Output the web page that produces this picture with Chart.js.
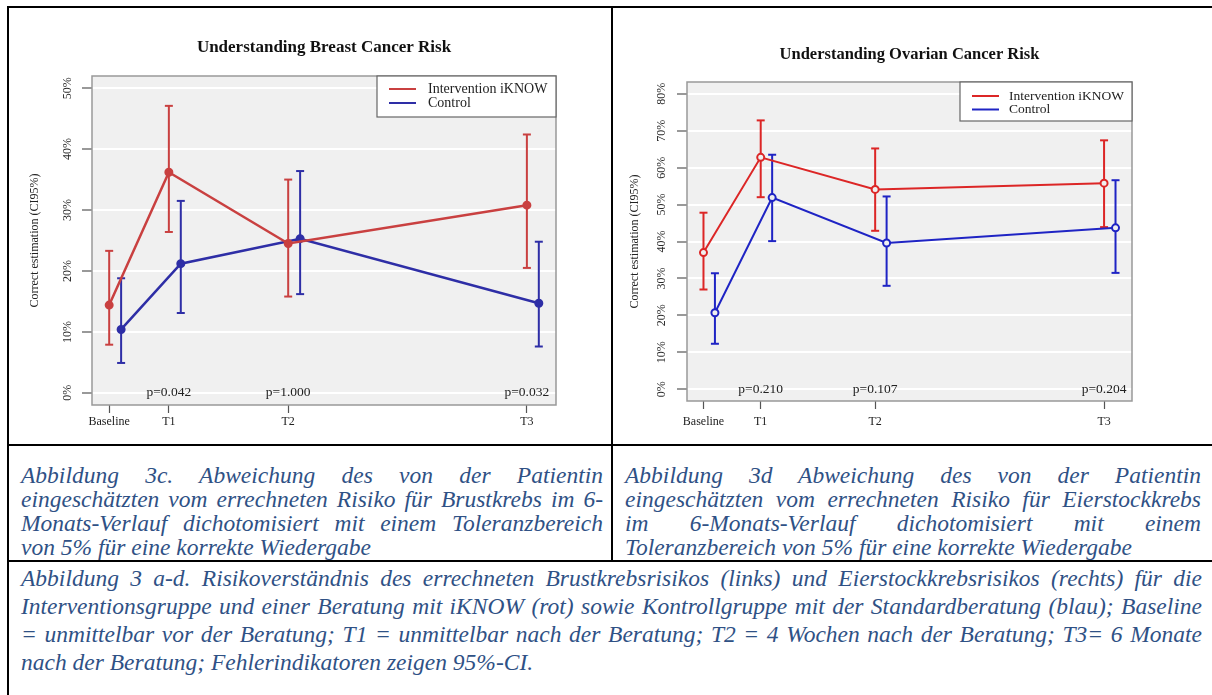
<!DOCTYPE html>
<html>
<head>
<meta charset="utf-8">
<script src="https://cdn.jsdelivr.net/npm/chart.js@4.4.0/dist/chart.umd.min.js"></script>
<style>
  html, body { margin: 0; padding: 0; background: #fff; }
  body { width: 1212px; height: 695px; position: relative; overflow: hidden; }
  .rule { position: absolute; background: #000; }
  canvas { position: absolute; }
  .cap {
    position: absolute;
    font-family: "Liberation Serif", serif;
    font-style: italic;
    font-size: 23.5px;
    color: #2f5185;
    white-space: nowrap;
    text-align: justify;
    text-align-last: justify;
  }
  .cap.last { text-align-last: left; }
  .top4 { height: 24px; line-height: 24px; }
  .bot4 { height: 28px; line-height: 28px; }
</style>
</head>
<body>

<div class="rule" style="left:7px;top:6px;width:1205px;height:2px"></div>
<div class="rule" style="left:7px;top:6px;width:2px;height:689px"></div>
<div class="rule" style="left:611px;top:6px;width:2px;height:556px"></div>
<div class="rule" style="left:7px;top:444px;width:1205px;height:2px"></div>
<div class="rule" style="left:7px;top:560px;width:1205px;height:2px"></div>

<canvas id="breastChart" width="601" height="436" style="left:9px;top:8px"></canvas>
<canvas id="ovarianChart" width="599" height="436" style="left:613px;top:8px"></canvas>

<div class="cap top4" style="left:21px;top:463px;width:582px">Abbildung 3c. Abweichung des von der Patientin</div>
<div class="cap top4" style="left:21px;top:487px;width:582px">eingeschätzten vom errechneten Risiko für Brustkrebs im 6-</div>
<div class="cap top4" style="left:21px;top:511px;width:582px">Monats-Verlauf dichotomisiert mit einem Toleranzbereich</div>
<div class="cap top4 last" style="left:21px;top:535px;width:582px">von 5% für eine korrekte Wiedergabe</div>

<div class="cap top4" style="left:625px;top:463px;width:576px">Abbildung 3d Abweichung des von der Patientin</div>
<div class="cap top4" style="left:625px;top:487px;width:576px">eingeschätzten vom errechneten Risiko für Eierstockkrebs</div>
<div class="cap top4" style="left:625px;top:511px;width:576px">im 6-Monats-Verlauf dichotomisiert mit einem</div>
<div class="cap top4 last" style="left:625px;top:535px;width:576px">Toleranzbereich von 5% für eine korrekte Wiedergabe</div>

<div class="cap bot4" style="left:21px;top:564px;width:1181px">Abbildung 3 a-d. Risikoverständnis des errechneten Brustkrebsrisikos (links) und Eierstockkrebsrisikos (rechts) für die</div>
<div class="cap bot4" style="left:21px;top:592px;width:1181px">Interventionsgruppe und einer Beratung mit iKNOW (rot) sowie Kontrollgruppe mit der Standardberatung (blau); Baseline</div>
<div class="cap bot4" style="left:21px;top:620px;width:1181px">= unmittelbar vor der Beratung; T1 = unmittelbar nach der Beratung; T2 = 4 Wochen nach der Beratung; T3= 6 Monate</div>
<div class="cap bot4 last" style="left:21px;top:648px;width:1181px">nach der Beratung; Fehlerindikatoren zeigen 95%-CI.</div>

<script>
// time points (x positions as plotted in the original R figure)
const categories = ['Baseline', 'T1', 'T2', 'T3'];
const xPos = [1, 2, 4, 8];
const controlShift = 0.2;
const xRange = [0.712, 8.488];

// breast cancer risk, % correct estimation
const breastIntervention = [14.4, 36.2, 24.5, 30.8];
const breastInterventionLow = [7.9, 26.4, 15.8, 20.5];
const breastInterventionHigh = [23.3, 47.1, 35.0, 42.4];
const breastControl = [10.4, 21.2, 25.3, 14.7];
const breastControlLow = [4.9, 13.1, 16.2, 7.6];
const breastControlHigh = [18.8, 31.5, 36.4, 24.8];
const breastPValues = ['p=0.042', 'p=1.000', 'p=0.032'];
const breastYTicks = [0, 10, 20, 30, 40, 50];
const breastYRange = [-2, 52];

// ovarian cancer risk, % correct estimation
const ovarianIntervention = [37.0, 62.8, 54.1, 55.8];
const ovarianInterventionLow = [27.0, 52.0, 42.9, 43.9];
const ovarianInterventionHigh = [47.8, 72.8, 65.2, 67.4];
const ovarianControl = [20.7, 51.9, 39.6, 43.7];
const ovarianControlLow = [12.3, 40.1, 28.0, 31.5];
const ovarianControlHigh = [31.4, 63.5, 52.2, 56.6];
const ovarianPValues = ['p=0.210', 'p=0.107', 'p=0.204'];
const ovarianYTicks = [0, 10, 20, 30, 40, 50, 60, 70, 80];
const ovarianYRange = [-3.2, 83.2];

const pValueX = [2, 4, 8];
const serif = 'Liberation Serif';

function meanPoints(vals, shift) {
    return xPos.map((x, i) => ({ x: x + shift, y: vals[i] }));
}

function barPoints(low, high, shift) {
    const pts = [];
    xPos.forEach((x, i) => {
        pts.push({ x: x + shift, y: low[i] }, { x: x + shift, y: high[i] }, { x: x + shift, y: null });
    });
    return pts;
}

const plotBackground = {
    id: 'plotBackground',
    beforeDraw(chart) {
        const { ctx, chartArea: a } = chart;
        ctx.save();
        ctx.fillStyle = '#f0f0f0';
        ctx.fillRect(a.left, a.top, a.right - a.left, a.bottom - a.top);
        ctx.restore();
    }
};

const plotExtras = {
    id: 'plotExtras',
    afterDatasetsDraw(chart, args, opts) {
        const { ctx, chartArea: a, scales } = chart;
        ctx.save();
        // frame
        ctx.strokeStyle = '#999';
        ctx.lineWidth = 1.5;
        ctx.strokeRect(a.left, a.top, a.right - a.left, a.bottom - a.top);

        // p values along the 0% line
        ctx.fillStyle = '#222';
        ctx.font = opts.pFont + 'px "' + serif + '"';
        ctx.textAlign = 'center';
        ctx.textBaseline = 'middle';
        opts.pValues.forEach((t, i) => {
            ctx.fillText(t, scales.x.getPixelForValue(pValueX[i]), scales.y.getPixelForValue(0));
        });

        // legend box in the top right corner
        const lg = opts.legend;
        const x = a.right - lg.w, y = a.top;
        ctx.fillStyle = '#fff';
        ctx.fillRect(x, y, lg.w, lg.h);
        ctx.strokeStyle = '#666';
        ctx.lineWidth = 1.2;
        ctx.strokeRect(x, y, lg.w, lg.h);
        ctx.font = lg.font + 'px "' + serif + '"';
        ctx.textAlign = 'left';
        chart.data.datasets.filter(d => d.inLegend).forEach((d, i) => {
            const ry = y + lg.rows[i];
            ctx.strokeStyle = d.borderColor;
            ctx.lineWidth = 2;
            ctx.beginPath();
            ctx.moveTo(x + lg.lineStart, ry);
            ctx.lineTo(x + lg.lineEnd, ry);
            ctx.stroke();
            ctx.fillStyle = '#222';
            ctx.fillText(d.label, x + lg.textX, ry);
        });
        ctx.restore();
    }
};

function makeChart(id, cfg) {
    const datasets = [
        {
            label: 'Intervention iKNOW', inLegend: true,
            data: meanPoints(cfg.inter, 0),
            borderColor: cfg.red, borderWidth: cfg.lineWidth,
            pointRadius: 3.5, pointBorderWidth: 2,
            pointBackgroundColor: cfg.hollow ? '#f0f0f0' : cfg.red, pointBorderColor: cfg.red
        },
        {
            label: 'Control', inLegend: true,
            data: meanPoints(cfg.ctrl, controlShift),
            borderColor: cfg.blue, borderWidth: cfg.lineWidth,
            pointRadius: 3.5, pointBorderWidth: 2,
            pointBackgroundColor: cfg.hollow ? '#f0f0f0' : cfg.blue, pointBorderColor: cfg.blue
        },
        {
            label: 'CI intervention',
            data: barPoints(cfg.interLow, cfg.interHigh, 0),
            borderColor: cfg.red, borderWidth: 2,
            pointStyle: 'line', pointRadius: 4, pointBorderWidth: 2, pointBorderColor: cfg.red
        },
        {
            label: 'CI control',
            data: barPoints(cfg.ctrlLow, cfg.ctrlHigh, controlShift),
            borderColor: cfg.blue, borderWidth: 2,
            pointStyle: 'line', pointRadius: 4, pointBorderWidth: 2, pointBorderColor: cfg.blue
        }
    ];

    return new Chart(document.getElementById(id), {
        type: 'line',
        data: { datasets },
        plugins: [plotBackground, plotExtras],
        options: {
            responsive: false,
            animation: false,
            events: [],
            spanGaps: false,
            layout: { padding: { left: 0, right: cfg.padRight, top: 0, bottom: 0 } },
            scales: {
                x: {
                    type: 'linear',
                    min: xRange[0], max: xRange[1],
                    afterBuildTicks: s => { s.ticks = xPos.map(v => ({ value: v })); },
                    afterFit: s => { s.height = cfg.xHeight; },
                    ticks: {
                        callback: (v, i) => categories[i],
                        autoSkip: false, maxRotation: 0,
                        padding: cfg.xPad,
                        font: { family: serif, size: 12 }, color: '#222'
                    },
                    grid: { drawOnChartArea: false, tickLength: 8, tickColor: '#555', tickWidth: 1.2 },
                    border: { display: false }
                },
                y: {
                    type: 'linear',
                    min: cfg.yRange[0], max: cfg.yRange[1],
                    afterBuildTicks: s => { s.ticks = cfg.yTicks.map(v => ({ value: v })); },
                    afterFit: s => { s.width = cfg.yWidth; },
                    ticks: {
                        callback: v => v + '%',
                        minRotation: 90, maxRotation: 90,
                        crossAlign: 'center',
                        padding: cfg.yPad,
                        font: { family: serif, size: 12 }, color: '#2a2a2a'
                    },
                    grid: { color: '#fff', lineWidth: 2, tickLength: 10, tickColor: '#555', tickWidth: 1.2 },
                    border: { display: false },
                    title: {
                        display: true, text: 'Correct estimation (CI95%)',
                        font: { family: serif, size: 12 }, color: '#222',
                        padding: { top: cfg.yTitlePad, bottom: 0 }
                    }
                }
            },
            plugins: {
                legend: { display: false },
                tooltip: { enabled: false },
                title: {
                    display: true, text: cfg.title, fullSize: false,
                    font: { family: serif, weight: 'bold', size: cfg.titleSize }, color: '#111',
                    padding: { top: cfg.titleTop, bottom: cfg.titleBottom }
                },
                plotExtras: { pValues: cfg.pValues, pFont: 13.5, legend: cfg.legend }
            }
        }
    });
}

makeChart('breastChart', {
    title: 'Understanding Breast Cancer Risk', titleSize: 17, titleTop: 29.8, titleBottom: 17.8,
    inter: breastIntervention, interLow: breastInterventionLow, interHigh: breastInterventionHigh,
    ctrl: breastControl, ctrlLow: breastControlLow, ctrlHigh: breastControlHigh,
    pValues: breastPValues, yTicks: breastYTicks, yRange: breastYRange,
    red: '#c94040', blue: '#2e2ea6', hollow: false, lineWidth: 2.5,
    padRight: 54, yWidth: 83, yPad: 3.5, yTitlePad: 18.8, xHeight: 39, xPad: 2,
    legend: { w: 179, h: 41, rows: [13, 27], lineStart: 12, lineEnd: 39, textX: 51, font: 14 }
});

makeChart('ovarianChart', {
    title: 'Understanding Ovarian Cancer Risk', titleSize: 16.5, titleTop: 37.1, titleBottom: 17.1,
    inter: ovarianIntervention, interLow: ovarianInterventionLow, interHigh: ovarianInterventionHigh,
    ctrl: ovarianControl, ctrlLow: ovarianControlLow, ctrlHigh: ovarianControlHigh,
    pValues: ovarianPValues, yTicks: ovarianYTicks, yRange: ovarianYRange,
    red: '#dc2626', blue: '#1f24c4', hollow: true, lineWidth: 2,
    padRight: 80, yWidth: 74, yPad: 4.5, yTitlePad: 14.9, xHeight: 43, xPad: 6,
    legend: { w: 172, h: 39, rows: [14, 27.5], lineStart: 12, lineEnd: 39, textX: 49, font: 13.5 }
});
</script>
</body>
</html>
